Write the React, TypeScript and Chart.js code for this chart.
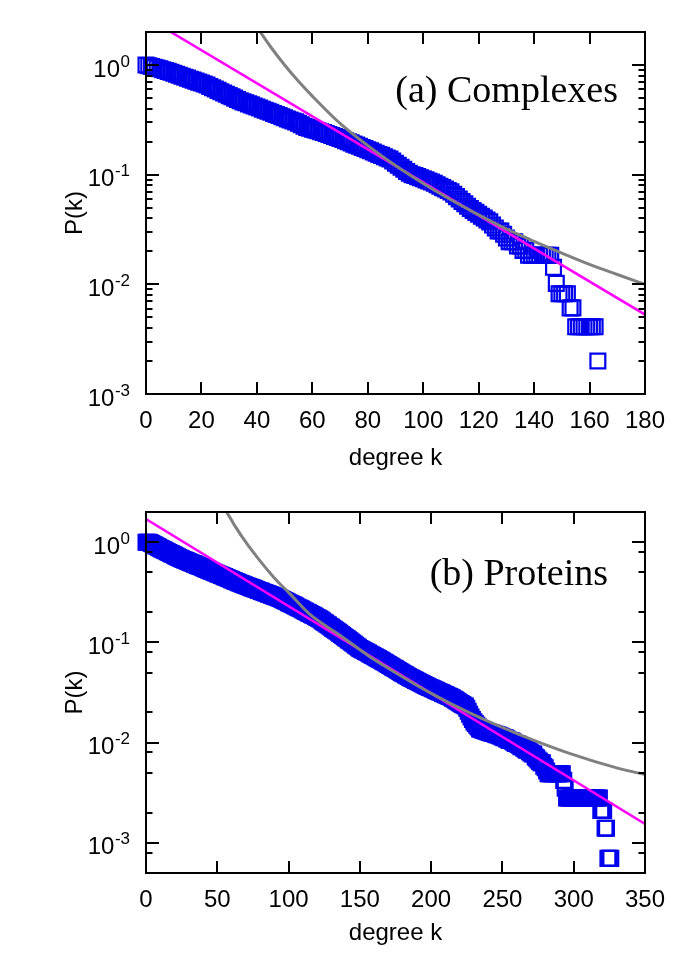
import React, { useEffect, useRef } from 'react';
import { Chart, registerables } from 'chart.js';

Chart.register(...registerables);

// ---------------- data ----------------
// (a) Complexes: cumulative degree distribution P(k), one value per integer degree k = 0..163
const complexesP = [
  1.000, 0.986, 0.971, 0.955, 0.938, 0.923, 0.906, 0.891, 0.875, 0.859, 0.841,
  0.824, 0.807, 0.791, 0.774, 0.759, 0.743, 0.728, 0.713, 0.698, 0.684, 0.670, 0.656,
  0.638, 0.621, 0.604, 0.587, 0.571, 0.556, 0.541, 0.526, 0.513, 0.499, 0.485, 0.472,
  0.461, 0.452, 0.442, 0.433, 0.423, 0.414, 0.405, 0.395, 0.387, 0.378, 0.371, 0.362,
  0.354, 0.346, 0.337, 0.330, 0.322, 0.315, 0.309, 0.303, 0.295, 0.285, 0.277, 0.270,
  0.265, 0.260, 0.255, 0.251, 0.246, 0.242, 0.237, 0.232, 0.228, 0.223, 0.218, 0.214,
  0.209, 0.204, 0.200, 0.195, 0.190, 0.186, 0.182, 0.177, 0.173, 0.169, 0.165, 0.161,
  0.157, 0.153, 0.150, 0.146, 0.142, 0.139, 0.133, 0.127, 0.122, 0.117, 0.112, 0.107,
  0.103, 0.100, 0.0982, 0.0960, 0.0938, 0.0918, 0.0897, 0.0877, 0.0859, 0.0834, 0.0809, 0.0785,
  0.0762, 0.0740, 0.0718, 0.0697, 0.0662, 0.0631, 0.0600, 0.0570, 0.0543, 0.0516, 0.0491, 0.0472,
  0.0453, 0.0436, 0.0418, 0.0402, 0.0386, 0.0371, 0.0347, 0.0327, 0.0306, 0.0306, 0.0286, 0.0265,
  0.0245, 0.0245, 0.0245, 0.0224, 0.0224, 0.0204, 0.0204, 0.0184, 0.0184, 0.0184, 0.0184, 0.0184,
  0.0184, 0.0184, 0.0184, 0.0184, 0.0143, 0.0102, 0.0082, 0.0082, 0.0082, 0.0082, 0.0061, 0.0061,
  0.0041, 0.0041, 0.0041, 0.0041, 0.0041, 0.0041, 0.0041, 0.0041, 0.0020,
];
const complexesExpK = [0, 180];
const complexesExpP = [2.73, 0.0053];
const complexesPowK = [39, 42, 45, 50, 55, 60, 70, 80, 90, 100, 110, 120, 130, 140, 150, 160, 170, 180];
const complexesPowP = [2.44, 1.87, 1.46, 1.0, 0.71, 0.52, 0.293, 0.184, 0.121, 0.083, 0.059, 0.043, 0.032, 0.0247, 0.0193, 0.0152, 0.0123, 0.0100];
const complexesXTicks = { max: 180, step: 20 };

// (b) Proteins: cumulative degree distribution P(k), one value per integer degree k = 0..326
const proteinsP = [
  1.000, 1.000, 0.995, 0.989, 0.971, 0.953, 0.936, 0.918, 0.904, 0.887, 0.871, 0.857,
  0.843, 0.830, 0.815, 0.802, 0.789, 0.776, 0.764, 0.752, 0.740, 0.726, 0.715, 0.703,
  0.692, 0.682, 0.673, 0.664, 0.655, 0.646, 0.637, 0.628, 0.621, 0.612, 0.604, 0.596,
  0.587, 0.579, 0.571, 0.564, 0.556, 0.548, 0.541, 0.533, 0.526, 0.519, 0.513, 0.506,
  0.499, 0.492, 0.485, 0.479, 0.472, 0.466, 0.459, 0.453, 0.447, 0.441, 0.435, 0.429,
  0.423, 0.417, 0.411, 0.406, 0.400, 0.394, 0.389, 0.385, 0.379, 0.375, 0.370, 0.366,
  0.361, 0.356, 0.352, 0.348, 0.344, 0.339, 0.335, 0.330, 0.327, 0.323, 0.318, 0.315,
  0.311, 0.308, 0.303, 0.300, 0.296, 0.292, 0.289, 0.286, 0.282, 0.279, 0.275, 0.271,
  0.267, 0.262, 0.258, 0.254, 0.249, 0.245, 0.242, 0.238, 0.234, 0.230, 0.226, 0.222,
  0.219, 0.215, 0.211, 0.207, 0.204, 0.200, 0.197, 0.194, 0.190, 0.187, 0.184, 0.180,
  0.177, 0.174, 0.171, 0.167, 0.163, 0.159, 0.156, 0.152, 0.149, 0.145, 0.142, 0.138,
  0.135, 0.132, 0.129, 0.126, 0.123, 0.120, 0.117, 0.114, 0.111, 0.109, 0.106, 0.104,
  0.101, 0.0986, 0.0962, 0.0938, 0.0914, 0.0893, 0.0871, 0.0855, 0.0839, 0.0824, 0.0811, 0.0796,
  0.0782, 0.0767, 0.0753, 0.0740, 0.0726, 0.0714, 0.0701, 0.0689, 0.0676, 0.0662, 0.0650, 0.0637,
  0.0625, 0.0612, 0.0601, 0.0589, 0.0577, 0.0566, 0.0555, 0.0545, 0.0533, 0.0524, 0.0513, 0.0502,
  0.0493, 0.0483, 0.0474, 0.0465, 0.0456, 0.0447, 0.0440, 0.0433, 0.0426, 0.0418, 0.0411, 0.0405,
  0.0398, 0.0392, 0.0385, 0.0379, 0.0372, 0.0366, 0.0361, 0.0355, 0.0350, 0.0344, 0.0340, 0.0334,
  0.0330, 0.0324, 0.0320, 0.0316, 0.0310, 0.0306, 0.0301, 0.0297, 0.0292, 0.0288, 0.0283, 0.0278,
  0.0272, 0.0267, 0.0261, 0.0256, 0.0250, 0.0245, 0.0240, 0.0236, 0.0232, 0.0220, 0.0206, 0.0192,
  0.0180, 0.0170, 0.0161, 0.0155, 0.0149, 0.0143, 0.0137, 0.0135, 0.0134, 0.0132, 0.0131, 0.0129,
  0.0128, 0.0126, 0.0125, 0.0124, 0.0123, 0.0121, 0.0120, 0.0119, 0.0117, 0.0116, 0.0114, 0.0112,
  0.0112, 0.0109, 0.0107, 0.0105, 0.0105, 0.0103, 0.0101, 0.0098, 0.0098, 0.0096, 0.0094, 0.0091,
  0.0091, 0.0088, 0.0086, 0.0084, 0.0084, 0.0081, 0.0079, 0.0077, 0.0077, 0.0072, 0.0070, 0.0067,
  0.0065, 0.0063, 0.0063, 0.0058, 0.0056, 0.0052, 0.0049, 0.0049, 0.0049, 0.0049, 0.0049, 0.0049,
  0.0049, 0.0049, 0.0049, 0.0049, 0.0049, 0.0042, 0.0035, 0.0028, 0.0028, 0.0028, 0.0028, 0.0028,
  0.0028, 0.0028, 0.0028, 0.0028, 0.0028, 0.0028, 0.0028, 0.0028, 0.0028, 0.0028, 0.0028, 0.0028,
  0.0028, 0.0028, 0.0028, 0.0028, 0.0028, 0.0028, 0.0028, 0.0021, 0.0021, 0.0021, 0.0014, 0.0014,
  0.0007, 0.0007, 0.0007,
];
const proteinsExpK = [0, 350];
const proteinsExpP = [1.70, 0.00154];
const proteinsPowK = [55, 58, 62, 70, 80, 90, 101, 115, 136, 157, 171, 200, 227, 262, 297, 332, 350];
const proteinsPowP = [2.2, 1.85, 1.48, 1.0, 0.65, 0.44, 0.305, 0.19, 0.118, 0.072, 0.054, 0.031, 0.0198, 0.0120, 0.0078, 0.0055, 0.0048];
const proteinsXTicks = { max: 350, step: 50 };

const yDecades = [0, -1, -2, -3];

// ---------------- styling ----------------
const SANS = '"Liberation Sans", Arial, Helvetica, sans-serif';
const SERIF = '"Liberation Serif", "Times New Roman", serif';
const BLUE = '#0000ee';
const MAGENTA = '#ff00ff';
const GRAY = '#808080';

type Panel = {
  label: string;
  labelX: number;
  labelY: number;
  points: number[];
  expK: number[];
  expP: number[];
  powK: number[];
  powP: number[];
  xMax: number;
  xStep: number;
  yMin: number;
  yMax: number;
  minorFactors: number[];
  height: number;
  xTitlePad: number;
};

function framePlugin(panel: Panel) {
  return {
    id: 'gnuplotFrame',
    afterDatasetsDraw(chart: any) {
      const { ctx, chartArea } = chart;
      const { left, right, top, bottom } = chartArea;
      const xs = chart.scales.x;
      const ys = chart.scales.y;
      ctx.save();
      ctx.strokeStyle = '#000';
      ctx.lineWidth = 2;
      ctx.beginPath();
      // x tick marks (inward, bottom + top)
      for (const t of xs.ticks) {
        if (t.value <= xs.min || t.value >= xs.max) continue;
        const px = Math.round(xs.getPixelForValue(t.value));
        ctx.moveTo(px, bottom);
        ctx.lineTo(px, bottom - 12);
        ctx.moveTo(px, top);
        ctx.lineTo(px, top + 12);
      }
      // major y ticks
      for (const e of yDecades) {
        const v = Math.pow(10, e);
        if (v < ys.min || v > ys.max) continue;
        const py = Math.round(ys.getPixelForValue(v));
        ctx.moveTo(left, py);
        ctx.lineTo(left + 13, py);
        ctx.moveTo(right, py);
        ctx.lineTo(right - 13, py);
      }
      // minor y ticks
      for (let e = -4; e <= 0; e++) {
        for (const f of panel.minorFactors) {
          const v = f * Math.pow(10, e);
          if (v <= ys.min * 1.001 || v >= ys.max * 0.999) continue;
          const py = Math.round(ys.getPixelForValue(v));
          ctx.moveTo(left, py);
          ctx.lineTo(left + 6.5, py);
          ctx.moveTo(right, py);
          ctx.lineTo(right - 6.5, py);
        }
      }
      ctx.stroke();
      ctx.strokeRect(left, top, right - left, bottom - top);

      // y tick labels 10^n
      ctx.fillStyle = '#000';
      ctx.textAlign = 'right';
      ctx.textBaseline = 'alphabetic';
      const labelRight = left - 16;
      for (const e of yDecades) {
        const v = Math.pow(10, e);
        if (v < ys.min || v > ys.max) continue;
        const py = ys.getPixelForValue(v);
        const sup = String(e);
        ctx.font = `17px ${SANS}`;
        ctx.fillText(sup, labelRight, py + 1.5);
        const w = ctx.measureText(sup).width;
        ctx.font = `24px ${SANS}`;
        ctx.fillText('10', labelRight - w - 0.5, py + 11.5);
      }

      // panel label
      ctx.font = `38px ${SERIF}`;
      ctx.textAlign = 'right';
      ctx.fillText(panel.label, panel.labelX, panel.labelY);
      ctx.restore();
    },
  };
}

function buildChart(canvas: HTMLCanvasElement, panel: Panel) {
  return new Chart(canvas, {
    type: 'line',
    data: {
      datasets: [
        {
          label: 'power law',
          data: panel.powK.map((k, i) => ({ x: k, y: panel.powP[i] })),
          borderColor: GRAY,
          borderWidth: 3,
          pointRadius: 0,
          fill: false,
          cubicInterpolationMode: 'monotone',
          clip: 0,
          order: 0,
        } as any,
        {
          label: 'exponential',
          data: panel.expK.map((k, i) => ({ x: k, y: panel.expP[i] })),
          borderColor: MAGENTA,
          borderWidth: 2.5,
          pointRadius: 0,
          fill: false,
          clip: 0,
          order: 1,
        } as any,
        {
          label: 'P(k)',
          data: panel.points.map((p, k) => ({ x: k, y: p })),
          showLine: false,
          pointStyle: 'rect',
          pointRadius: 10.5,
          pointBorderWidth: 2.2,
          pointBorderColor: BLUE,
          pointBackgroundColor: 'rgba(0,0,0,0)',
          borderColor: BLUE,
          backgroundColor: 'rgba(0,0,0,0)',
          clip: false,
          order: 2,
        } as any,
      ],
    },
    options: {
      responsive: false,
      animation: false,
      devicePixelRatio: 1,
      events: [],
      layout: { padding: { top: 32, right: 40, left: 0, bottom: 0 } },
      plugins: {
        legend: { display: false },
        tooltip: { enabled: false },
      },
      scales: {
        x: {
          type: 'linear',
          position: 'bottom',
          min: 0,
          max: panel.xMax,
          ticks: {
            stepSize: panel.xStep,
            autoSkip: false,
            maxRotation: 0,
            padding: 13,
            color: '#000',
            font: { family: SANS, size: 24 },
          },
          grid: { display: false, drawTicks: false },
          border: { display: false },
          title: {
            display: true,
            text: 'degree k',
            color: '#000',
            font: { family: SANS, size: 24 },
            padding: { top: 0, bottom: panel.xTitlePad },
          },
          afterFit: (s: any) => {
            s.height = 86;
          },
        },
        y: {
          type: 'logarithmic',
          position: 'left',
          min: panel.yMin,
          max: panel.yMax,
          ticks: { display: false },
          grid: { display: false, drawTicks: false },
          border: { display: false },
          title: {
            display: true,
            text: 'P(k)',
            color: '#000',
            font: { family: SANS, size: 24 },
            padding: { top: 61, bottom: 0 },
          },
          afterFit: (s: any) => {
            s.width = 146;
          },
        },
      },
    } as any,
    plugins: [framePlugin(panel)],
  });
}

const panels: Panel[] = [
  {
    label: '(a) Complexes',
    labelX: 618,
    labelY: 102,
    points: complexesP,
    expK: complexesExpK,
    expP: complexesExpP,
    powK: complexesPowK,
    powP: complexesPowP,
    xMax: complexesXTicks.max,
    xStep: complexesXTicks.step,
    yMin: 0.001,
    yMax: 2,
    minorFactors: [2, 3, 4, 5, 6, 7, 8, 9],
    height: 480,
    xTitlePad: 7,
  },
  {
    label: '(b) Proteins',
    labelX: 608,
    labelY: 105,
    points: proteinsP,
    expK: proteinsExpK,
    expP: proteinsExpP,
    powK: proteinsPowK,
    powP: proteinsPowP,
    xMax: proteinsXTicks.max,
    xStep: proteinsXTicks.step,
    yMin: 0.0005,
    yMax: 2,
    minorFactors: [2, 5, 8],
    height: 479,
    xTitlePad: 11,
  },
];

function PanelChart({ panel }: { panel: Panel }) {
  const ref = useRef<HTMLCanvasElement | null>(null);
  useEffect(() => {
    if (!ref.current) return;
    const chart = buildChart(ref.current, panel);
    return () => chart.destroy();
  }, [panel]);
  return (
    <canvas
      ref={ref}
      width={685}
      height={panel.height}
      style={{ display: 'block', width: 685, height: panel.height }}
    />
  );
}

export default function App() {
  return (
    <div style={{ position: 'absolute', left: 0, top: 0, width: 685, height: 959, background: '#fff' }}>
      {panels.map((p) => (
        <PanelChart key={p.label} panel={p} />
      ))}
    </div>
  );
}
